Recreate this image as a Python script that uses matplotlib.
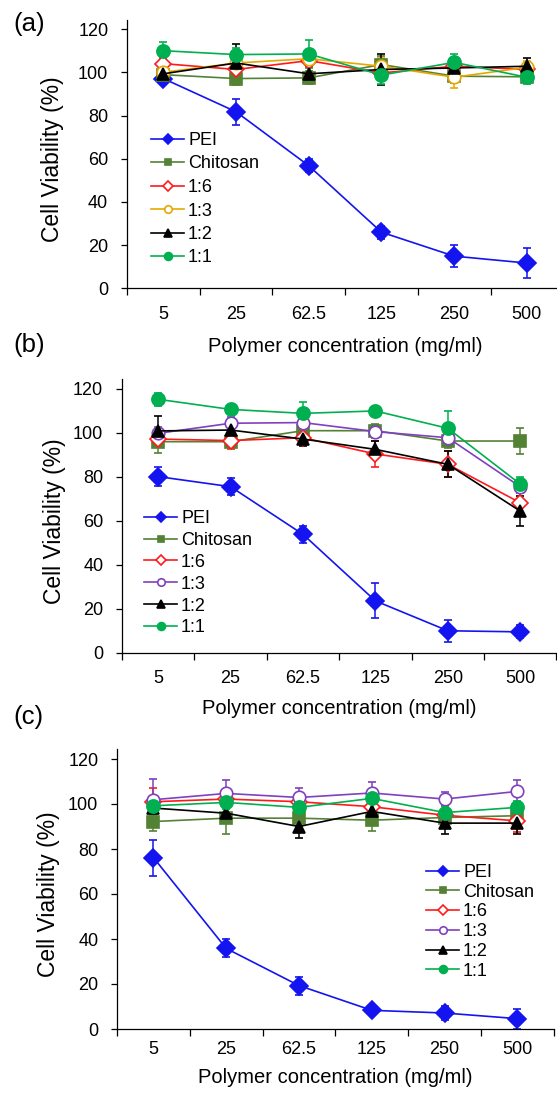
import numpy as np
import matplotlib
matplotlib.use('Agg')
import matplotlib.pyplot as plt

plt.rcParams['font.family'] = ['Liberation Sans', 'DejaVu Sans']

categories = ['5', '25', '62.5', '125', '250', '500']
series_names = ['PEI', 'Chitosan', '1:6', '1:3', '1:2', '1:1']

# panel (a)
a_vals = {
    'PEI':      [97.2, 81.8, 56.8, 26.0, 14.9, 11.7],
    'Chitosan': [99.0, 97.2, 97.5, 103.7, 98.3, 98.0],
    '1:6':      [104.1, 101.4, 105.5, 99.8, 102.9, 101.4],
    '1:3':      [100.1, 104.4, 106.4, 102.9, 97.8, 102.4],
    '1:2':      [99.4, 104.4, 99.4, 101.4, 102.1, 102.9],
    '1:1':      [110.1, 108.3, 108.6, 98.8, 104.7, 97.8],
}
a_err = {
    'PEI':      [2, 6, 3, 3, 5, 7],
    'Chitosan': [3, 3, 3, 4, 3, 3],
    '1:6':      [3, 3, 3, 3, 2, 2],
    '1:3':      [3, 3, 3, 4, 5, 3],
    '1:2':      [3, 9, 4, 7, 4, 4],
    '1:1':      [4, 3, 6.5, 4, 4, 3],
}

# panel (b)
b_vals = {
    'PEI':      [80.1, 75.5, 53.8, 23.5, 9.9, 9.4],
    'Chitosan': [96.0, 96.0, 101.0, 101.0, 96.3, 96.3],
    '1:6':      [97.2, 96.5, 97.8, 90.4, 85.7, 68.2],
    '1:3':      [99.8, 104.4, 104.7, 100.6, 97.8, 75.5],
    '1:2':      [100.9, 101.3, 97.2, 92.5, 85.7, 64.4],
    '1:1':      [115.3, 110.7, 108.9, 110.0, 102.1, 76.7],
}
b_err = {
    'PEI':      [4.5, 4, 4, 8, 5, 3],
    'Chitosan': [5, 3, 3, 3, 3, 6],
    '1:6':      [3, 4, 3, 6, 6, 5],
    '1:3':      [3, 3, 3, 3, 3, 3],
    '1:2':      [7, 3, 3, 4, 6, 7],
    '1:1':      [3, 2, 5, 2, 8, 3],
}

# panel (c)
c_vals = {
    'PEI':      [76.2, 35.8, 19.3, 8.3, 7.1, 4.6],
    'Chitosan': [92.2, 93.7, 93.7, 92.8, 94.0, 94.8],
    '1:6':      [101.0, 102.2, 101.0, 98.8, 95.0, 92.5],
    '1:3':      [101.9, 104.7, 102.9, 104.9, 102.2, 105.6],
    '1:2':      [98.2, 95.9, 90.0, 96.7, 91.5, 91.5],
    '1:1':      [99.2, 100.7, 98.5, 102.5, 96.2, 98.5],
}
c_err = {
    'PEI':      [8, 4, 4, 2, 3, 4.5],
    'Chitosan': [4, 7, 4, 5, 3, 3],
    '1:6':      [6, 4, 3, 3, 3, 5],
    '1:3':      [9, 6, 4, 5, 3, 5],
    '1:2':      [4, 4, 5, 4, 5, 5],
    '1:1':      [4, 3, 3, 4, 3, 3],
}

blue = '#1414f0'
olive = '#548235'
red = '#ff1a1a'
gold = '#e6a800'
purple = '#8040c0'
black = '#000000'
green = '#00b050'

def styles(c13):
    return {
        'PEI':      dict(color=blue, marker='D', ms=9, mfc=blue),
        'Chitosan': dict(color=olive, marker='s', ms=8, mfc=olive),
        '1:6':      dict(color=red, marker='D', ms=8, mfc='white'),
        '1:3':      dict(color=c13, marker='o', ms=9, mfc='white'),
        '1:2':      dict(color=black, marker='^', ms=8.5, mfc=black),
        '1:1':      dict(color=green, marker='o', ms=9.5, mfc=green),
    }

W, H = 557.0, 1099.0
YMAX = 124.5
fig = plt.figure(figsize=(W / 100, H / 100), dpi=100)

# pixel layout: left spine x, category width, zero-line y, px per unit
# legend line start x, legend first row y, label spacing,
# ylabel right edge x, ticklabel pad, xlabel top offset, panel label y
panels = [
    ('(a)', a_vals, a_err, gold, 127, 72.7, 288.3, 2.158, 151, 142, 0.36, 64, 12.5, 49, 24),
    ('(b)', b_vals, b_err, purple, 122, 72.4, 652.5, 2.196, 144, 520, 0.27, 66, 12.5, 46, 345),
    ('(c)', c_vals, c_err, purple, 117, 72.8, 1029, 2.25, 426, 874, 0.15, 60, 8.5, 39, 717),
]

x = np.arange(len(categories)) + 0.5

for (label, vals, errs, c13, lx, cw, y0, ppu, legx, legy, lsp,
     ylx, tpad, xlt, ply) in panels:
    wpx = 6 * cw
    hpx = YMAX * ppu
    ax = fig.add_axes([lx / W, 1 - y0 / H, wpx / W, hpx / H])
    st = styles(c13)
    for name in series_names:
        s = st[name]
        ax.errorbar(x, vals[name], yerr=errs[name], color=s['color'], lw=1.2,
                    marker=s['marker'], ms=s['ms'], mfc=s['mfc'],
                    mec=s['color'], mew=1.2, capsize=3, elinewidth=1.1,
                    capthick=1.1, label=name)
    ax.set_xlim(0, 6)
    ax.set_ylim(0, YMAX)
    ax.set_yticks([0, 20, 40, 60, 80, 100, 120])
    ax.set_xticks(np.arange(0, 7))
    ax.set_xticklabels([])
    ax.set_xticks(x, minor=True)
    ax.set_xticklabels(categories, minor=True)
    ax.tick_params(axis='x', which='minor', length=0, pad=tpad, labelsize=13)
    ax.tick_params(axis='x', which='major', length=5, direction='out', width=0.9)
    ax.tick_params(axis='y', length=4, direction='out', width=0.9,
                   labelsize=13, pad=9.5)
    ax.spines['top'].set_visible(False)
    ax.spines['right'].set_visible(False)
    for sp in ('left', 'bottom'):
        ax.spines[sp].set_linewidth(0.9)
    ax.set_ylabel('Cell Viability (%)', fontsize=16.5)
    ax.yaxis.set_label_coords((ylx - lx) / wpx, 60 / YMAX)
    ax.set_xlabel('Polymer concentration (mg/ml)', fontsize=14.5)
    ax.xaxis.set_label_coords(0.5, -xlt / hpx)

    handles, labels = ax.get_legend_handles_labels()
    handles = [h[0] for h in handles]
    ax.legend(handles, labels, frameon=False, fontsize=13,
              handlelength=1.85, handletextpad=0.2, labelspacing=lsp,
              markerscale=0.6, borderpad=0, borderaxespad=0,
              loc='upper left', bbox_to_anchor=(legx / W, 1 - (legy - 10) / H),
              bbox_transform=fig.transFigure)
    fig.text(13 / W, 1 - ply / H, label, fontsize=18.5, va='center', ha='left')

fig.savefig('out.png', dpi=100)
plt.close(fig)
